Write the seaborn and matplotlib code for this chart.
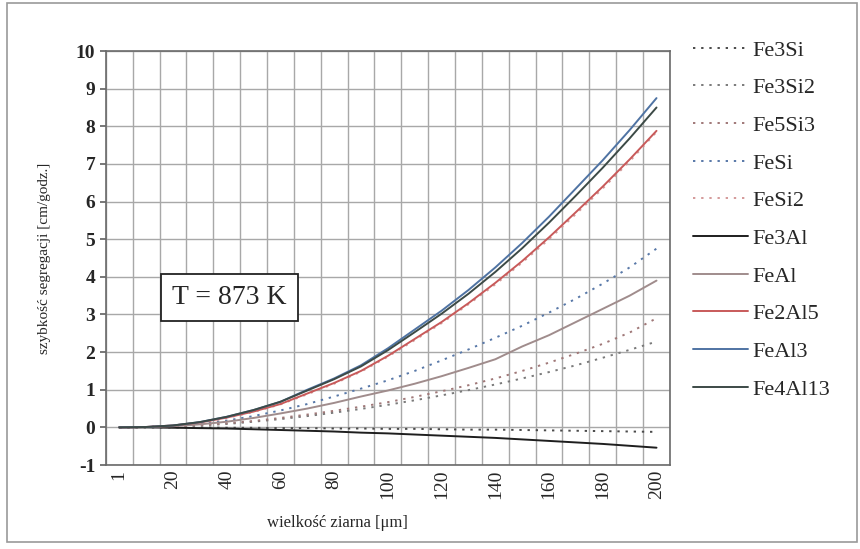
import numpy as np
import pandas as pd
import matplotlib.pyplot as plt
import seaborn as sns
from matplotlib.patches import Rectangle

# wielkość ziarna [um] - kategorie osi X
grain = [1, 10, 20, 30, 40, 50, 60, 70, 80, 90, 100,
         110, 120, 130, 140, 150, 160, 170, 180, 190, 200]

# szybkość segregacji [cm/godz.]
fe3si = [0, 0, 0, 0, -0.01, -0.01, -0.02, -0.02, -0.03, -0.03, -0.04,
         -0.04, -0.05, -0.06, -0.06, -0.07, -0.08, -0.09, -0.1, -0.11, -0.12]
fe3si2 = [0, 0.01, 0.02, 0.05, 0.09, 0.15, 0.22, 0.3, 0.39, 0.49, 0.6,
          0.72, 0.85, 0.99, 1.14, 1.3, 1.47, 1.65, 1.85, 2.06, 2.28]
fe5si3 = [0, 0.01, 0.03, 0.06, 0.11, 0.17, 0.25, 0.34, 0.44, 0.55, 0.67,
          0.81, 0.96, 1.12, 1.3, 1.5, 1.72, 1.96, 2.22, 2.52, 2.9]
fesi = [0, 0.01, 0.04, 0.1, 0.18, 0.3, 0.45, 0.62, 0.82, 1.03, 1.25,
        1.5, 1.78, 2.07, 2.38, 2.7, 3.05, 3.42, 3.82, 4.25, 4.75]
fesi2 = [0, 0.01, 0.04, 0.12, 0.25, 0.41, 0.61, 0.88, 1.16, 1.48, 1.88,
         2.32, 2.77, 3.27, 3.8, 4.38, 5.0, 5.67, 6.35, 7.07, 7.85]
fe3al = [0, 0, -0.01, -0.02, -0.03, -0.05, -0.07, -0.09, -0.11, -0.14, -0.16,
         -0.19, -0.22, -0.25, -0.28, -0.32, -0.36, -0.4, -0.44, -0.49, -0.54]
feal = [0, 0.01, 0.03, 0.08, 0.15, 0.25, 0.37, 0.5, 0.65, 0.82, 0.98,
        1.16, 1.36, 1.58, 1.81, 2.15, 2.45, 2.8, 3.15, 3.5, 3.9]
fe2al5 = [0, 0.01, 0.05, 0.13, 0.26, 0.42, 0.62, 0.9, 1.18, 1.5, 1.9,
          2.35, 2.8, 3.3, 3.84, 4.42, 5.05, 5.72, 6.4, 7.12, 7.88]
feal3 = [0, 0.01, 0.05, 0.14, 0.28, 0.46, 0.68, 1.0, 1.3, 1.65, 2.1,
         2.6, 3.1, 3.65, 4.25, 4.9, 5.6, 6.35, 7.1, 7.9, 8.75]
fe4al13 = [0, 0.01, 0.05, 0.14, 0.28, 0.46, 0.68, 0.98, 1.28, 1.62, 2.05,
           2.53, 3.02, 3.55, 4.13, 4.76, 5.44, 6.16, 6.9, 7.68, 8.5]

names = ["Fe3Si", "Fe3Si2", "Fe5Si3", "FeSi", "FeSi2",
         "Fe3Al", "FeAl", "Fe2Al5", "FeAl3", "Fe4Al13"]
series = [fe3si, fe3si2, fe5si3, fesi, fesi2,
          fe3al, feal, fe2al5, feal3, fe4al13]
colors = ["#4a4a4a", "#7a7a7a", "#a07878", "#5878a8", "#d49a9a",
          "#1e1e1e", "#a08c8c", "#c85a5a", "#4f73a3", "#3c4a46"]
dotted = (1.2, 3.0)
dashes = {n: (dotted if i < 5 else "") for i, n in enumerate(names)}

rows = []
for n, vals in zip(names, series):
    for i, v in enumerate(vals):
        rows.append({"pos": i, "v": v, "faza": n})
df = pd.DataFrame(rows)

sns.set_theme(style="white")
plt.rcParams['font.family'] = ['Liberation Serif', 'DejaVu Serif']
plt.rcParams['axes.unicode_minus'] = False

fig = plt.figure(figsize=(8.6, 5.49), dpi=100)
ax = fig.add_axes([0.123, 0.153, 0.656, 0.754])

sns.lineplot(data=df, x="pos", y="v", hue="faza", style="faza",
             palette=dict(zip(names, colors)), dashes=dashes,
             hue_order=names, style_order=names, linewidth=1.4, ax=ax)

ax.set_xlim(-0.5, len(grain) - 0.5)
ax.set_ylim(-1, 10)
ax.set_yticks(range(-1, 11))
ax.set_xticks(range(0, len(grain), 2))
ax.set_xticklabels([str(g) for g in grain[::2]], rotation=90, fontsize=14)
ax.set_xticks(np.arange(-0.5, len(grain), 1), minor=True)
ax.tick_params(axis="y", labelsize=14, length=4, left=True, color="#666666")
ax.tick_params(axis="x", which="both", length=0)
for t in ax.get_yticklabels():
    t.set_fontweight("bold")
ax.grid(axis="y", which="major", color="#a8a8a8", linewidth=1.0)
ax.grid(axis="x", which="minor", color="#a8a8a8", linewidth=1.0)
for s in ax.spines.values():
    s.set_color("#6a6a6a")
    s.set_linewidth(1.2)

ax.set_xlabel("wielkość ziarna [μm]", fontsize=12)
ax.xaxis.set_label_coords(0.41, -0.12)
ax.set_ylabel("szybkość segregacji [cm/godz.]", fontsize=11)
ax.yaxis.set_label_coords(-0.097, 0.5)

ax.text(4.1, 3.45, "T = 873 K", fontsize=20, ha="center", va="center",
        bbox=dict(boxstyle="square,pad=0.4", facecolor="white",
                  edgecolor="#222222", linewidth=1.3))

sns.move_legend(ax, "upper left", bbox_to_anchor=(1.005, 1.075), title=None,
                frameon=False, fontsize=16, handlelength=2.5,
                labelspacing=0.77, handletextpad=0.2)

fig.patches.append(Rectangle((0.008, 0.012), 0.988, 0.982, transform=fig.transFigure,
                             fill=False, edgecolor="#9a9a9a", linewidth=1.2))

fig.savefig("out.png", dpi=100, facecolor="white")
